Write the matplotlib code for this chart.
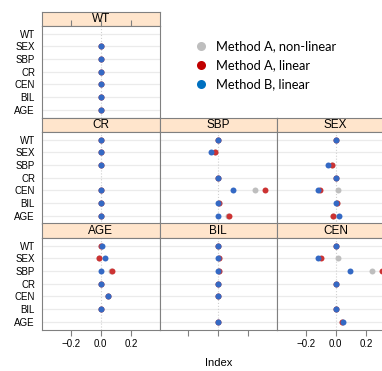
import numpy as np
import matplotlib
matplotlib.use('Agg')
import matplotlib.pyplot as plt
from matplotlib.lines import Line2D

nan = np.nan

# rows top to bottom
variables = ['WT', 'SEX', 'SBP', 'CR', 'CEN', 'BIL', 'AGE']
methods = ['Method A, non-linear', 'Method A, linear', 'Method B, linear']
method_colors = ['#BEBEBE', '#CC3333', '#3469C4']
legend_colors = ['#BEBEBE', '#C00000', '#0070C0']

# panel -> values per method (grey, red, blue), in the order of variables
wt_vals = [[nan, 0, 0, 0, 0, 0, 0],
           [nan, 0, 0, 0, 0, 0, 0],
           [nan, 0, 0, 0, 0, 0, 0]]
cr_vals = [[0, 0, 0, nan, 0, 0, 0],
           [0, 0, 0, nan, 0, 0, 0],
           [0, 0, 0, nan, 0, 0, 0]]
sbp_vals = [[0, -0.02, nan, 0, 0.245, 0.003, 0.065],
            [0, -0.02, nan, 0, 0.313, 0.005, 0.07],
            [0, -0.047, nan, 0, 0.10, 0, 0]]
sex_vals = [[0, nan, -0.025, 0, 0.013, 0.005, -0.015],
            [0, nan, -0.025, 0, -0.103, 0.005, -0.015],
            [0, nan, -0.05, 0, -0.12, 0, 0.02]]
age_vals = [[0, -0.01, 0.07, 0, 0.045, 0, nan],
            [0, -0.01, 0.073, 0, 0.045, 0, nan],
            [0.005, 0.03, 0, 0, 0.05, 0, nan]]
bil_vals = [[0, 0.003, 0.003, 0, 0, nan, 0],
            [0, 0.003, 0.003, 0, 0, nan, 0],
            [0, 0, 0, 0, 0, nan, 0]]
cen_vals = [[0, 0.013, 0.24, 0, nan, 0, 0.04],
            [0, -0.10, 0.307, 0, nan, 0, 0.04],
            [0, -0.12, 0.097, 0, nan, 0.003, 0.047]]

panels = [('WT', 0, 0, wt_vals),
          ('CR', 1, 0, cr_vals), ('SBP', 1, 1, sbp_vals), ('SEX', 1, 2, sex_vals),
          ('AGE', 2, 0, age_vals), ('BIL', 2, 1, bil_vals), ('CEN', 2, 2, cen_vals)]
xticks = [-0.2, 0.0, 0.2]

W, H = 382, 371
fig = plt.figure(figsize=(W / 100, H / 100), dpi=100)
plt.rcParams['font.family'] = 'Liberation Sans'

def frac(x, y, w, h):
    return [x / W, 1 - (y + h) / H, w / W, h / H]

col_left = [42, 159.5, 277]
row_top = [11.5, 117.5, 223.5]
pw, sh, ph = 117.5, 14.5, 91.5
frame = '#808080'
ypos = np.arange(len(variables))[::-1] + 1

for name, r, c, vals in panels:
    # strip
    sax = fig.add_axes(frac(col_left[c], row_top[r], pw, sh))
    sax.set_facecolor('#FFE5CC')
    sax.set_xticks([])
    sax.set_yticks([])
    for s in sax.spines.values():
        s.set_color(frame)
    sax.text(0.5, 0.45, name, ha='center', va='center', fontsize=8.5, transform=sax.transAxes)

    ax = fig.add_axes(frac(col_left[c], row_top[r] + sh, pw, ph))
    ax.set_xlim(-0.39, 0.39)
    ax.set_ylim(0.4, 7.6)
    for y in ypos:
        ax.axhline(y, color='#EBEBEB', lw=0.9, zorder=0)
    ax.axvline(0, color='#D0D0D0', lw=0.8, ls=':', zorder=0)
    for k, m in enumerate(methods):
        ax.plot(vals[k], ypos, 'o', color=method_colors[k], ms=4.3, mew=0, zorder=2 + k)
    for s in ax.spines.values():
        s.set_color(frame)

    ax.set_yticks(ypos)
    if c == 0:
        ax.set_yticklabels(variables, fontsize=7)
    else:
        ax.set_yticklabels([])
    ax.tick_params(axis='y', length=0, pad=5)

    ax.set_xticks(xticks)
    if r == 2:
        ax.tick_params(axis='x', direction='out', length=4, color=frame, labelsize=7, pad=3)
        if c == 1:
            ax.set_xticklabels([])
        else:
            ax.set_xticklabels(['\u22120.2', '0.0', '0.2'])
    elif r == 0:
        ax.tick_params(axis='x', bottom=False, labelbottom=False, top=True,
                       direction='out', length=4, color=frame)
    else:
        ax.tick_params(axis='x', bottom=False, labelbottom=False)

fig.text(218.3 / W, 1 - 363 / H, 'Index', ha='center', va='center', fontsize=8)

handles = [Line2D([], [], marker='o', ls='', color=col, ms=6.5, mew=0) for col in legend_colors]
fig.legend(handles, methods, loc='upper left', bbox_to_anchor=(188 / W, 1 - 35 / H),
           frameon=False, prop={'family': 'Lato', 'size': 9.3},
           handletextpad=0.6, labelspacing=0.55, borderaxespad=0, handlelength=1.2)

fig.savefig('out.png', dpi=100)
